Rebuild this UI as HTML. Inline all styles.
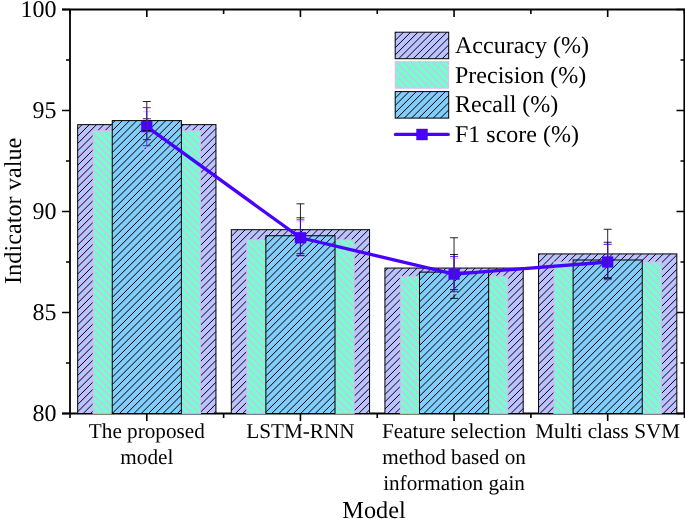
<!DOCTYPE html>
<html><head><meta charset="utf-8"><title>chart</title>
<style>
html,body{margin:0;padding:0;background:#fff;}
body{width:685px;height:519px;overflow:hidden;}
svg{display:block;will-change:transform;}
text{font-family:"Liberation Serif",serif;fill:#000;text-rendering:geometricPrecision;}
</style></head><body>
<svg width="685" height="519" viewBox="0 0 685 519">
<rect width="685" height="519" fill="#fff"/>
<path d="M62.0,9.5 L685,9.5 M70.0,8.5 L70.0,414.5 M62.0,413.5 L685,413.5 M684.3,9.5 L684.3,413.5" stroke="#000" stroke-width="1.8" fill="none"/>
<path d="M62.0,413.50 L70.0,413.50 M676.5,413.50 L684.5,413.50 M66.0,363.00 L70.0,363.00 M680.5,363.00 L684.5,363.00 M62.0,312.50 L70.0,312.50 M676.5,312.50 L684.5,312.50 M66.0,262.00 L70.0,262.00 M680.5,262.00 L684.5,262.00 M62.0,211.50 L70.0,211.50 M676.5,211.50 L684.5,211.50 M66.0,161.00 L70.0,161.00 M680.5,161.00 L684.5,161.00 M62.0,110.50 L70.0,110.50 M676.5,110.50 L684.5,110.50 M66.0,60.00 L70.0,60.00 M680.5,60.00 L684.5,60.00 M62.0,9.50 L70.0,9.50 M676.5,9.50 L684.5,9.50 M146.81,413.5 L146.81,421.0 M146.81,9.5 L146.81,17.0 M300.44,413.5 L300.44,421.0 M300.44,9.5 L300.44,17.0 M454.06,413.5 L454.06,421.0 M454.06,9.5 L454.06,17.0 M607.69,413.5 L607.69,421.0 M607.69,9.5 L607.69,17.0 M70.00,413.5 L70.00,418.0 M70.00,9.5 L70.00,14.0 M223.62,413.5 L223.62,418.0 M223.62,9.5 L223.62,14.0 M377.25,413.5 L377.25,418.0 M377.25,9.5 L377.25,14.0 M530.88,413.5 L530.88,418.0 M530.88,9.5 L530.88,14.0 M684.50,413.5 L684.50,418.0 M684.50,9.5 L684.50,14.0 " stroke="#000" stroke-width="1.6" fill="none"/>
<rect x="77.68" y="124.64" width="138.26" height="288.86" fill="#bcc2ff"/><path d="M77.68,129.02L82.06,124.64M77.68,136.27L89.31,124.64M77.68,143.52L96.56,124.64M77.68,150.77L103.81,124.64M77.68,158.02L111.06,124.64M77.68,165.27L118.31,124.64M77.68,172.52L125.56,124.64M77.68,179.77L132.81,124.64M77.68,187.02L140.06,124.64M77.68,194.27L147.31,124.64M77.68,201.52L154.56,124.64M77.68,208.77L161.81,124.64M77.68,216.02L169.06,124.64M77.68,223.27L176.31,124.64M77.68,230.52L183.56,124.64M77.68,237.77L190.81,124.64M77.68,245.02L198.06,124.64M77.68,252.27L205.31,124.64M77.68,259.52L212.56,124.64M77.68,266.77L215.94,128.51M77.68,274.02L215.94,135.76M77.68,281.27L215.94,143.01M77.68,288.52L215.94,150.26M77.68,295.77L215.94,157.51M77.68,303.02L215.94,164.76M77.68,310.27L215.94,172.01M77.68,317.52L215.94,179.26M77.68,324.77L215.94,186.51M77.68,332.02L215.94,193.76M77.68,339.27L215.94,201.01M77.68,346.52L215.94,208.26M77.68,353.77L215.94,215.51M77.68,361.02L215.94,222.76M77.68,368.27L215.94,230.01M77.68,375.52L215.94,237.26M77.68,382.77L215.94,244.51M77.68,390.02L215.94,251.76M77.68,397.27L215.94,259.01M77.68,404.52L215.94,266.26M77.68,411.77L215.94,273.51M83.20,413.50L215.94,280.76M90.45,413.50L215.94,288.01M97.70,413.50L215.94,295.26M104.95,413.50L215.94,302.51M112.20,413.50L215.94,309.76M119.45,413.50L215.94,317.01M126.70,413.50L215.94,324.26M133.95,413.50L215.94,331.51M141.20,413.50L215.94,338.76M148.45,413.50L215.94,346.01M155.70,413.50L215.94,353.26M162.95,413.50L215.94,360.51M170.20,413.50L215.94,367.76M177.45,413.50L215.94,375.01M184.70,413.50L215.94,382.26M191.95,413.50L215.94,389.51M199.20,413.50L215.94,396.76M206.45,413.50L215.94,404.01M213.70,413.50L215.94,411.26" stroke="#000" stroke-width="1.0" fill="none"/><rect x="77.68" y="124.64" width="138.26" height="288.86" fill="none" stroke="#000" stroke-width="1"/>
<rect x="231.31" y="229.68" width="138.26" height="183.82" fill="#bcc2ff"/><path d="M231.31,236.39L238.02,229.68M231.31,243.64L245.27,229.68M231.31,250.89L252.52,229.68M231.31,258.14L259.77,229.68M231.31,265.39L267.02,229.68M231.31,272.64L274.27,229.68M231.31,279.89L281.52,229.68M231.31,287.14L288.77,229.68M231.31,294.39L296.02,229.68M231.31,301.64L303.27,229.68M231.31,308.89L310.52,229.68M231.31,316.14L317.77,229.68M231.31,323.39L325.02,229.68M231.31,330.64L332.27,229.68M231.31,337.89L339.52,229.68M231.31,345.14L346.77,229.68M231.31,352.39L354.02,229.68M231.31,359.64L361.27,229.68M231.31,366.89L368.52,229.68M231.31,374.14L369.57,235.88M231.31,381.39L369.57,243.13M231.31,388.64L369.57,250.38M231.31,395.89L369.57,257.63M231.31,403.14L369.57,264.88M231.31,410.39L369.57,272.13M235.45,413.50L369.57,279.38M242.70,413.50L369.57,286.63M249.95,413.50L369.57,293.88M257.20,413.50L369.57,301.13M264.45,413.50L369.57,308.38M271.70,413.50L369.57,315.63M278.95,413.50L369.57,322.88M286.20,413.50L369.57,330.13M293.45,413.50L369.57,337.38M300.70,413.50L369.57,344.63M307.95,413.50L369.57,351.88M315.20,413.50L369.57,359.13M322.45,413.50L369.57,366.38M329.70,413.50L369.57,373.63M336.95,413.50L369.57,380.88M344.20,413.50L369.57,388.13M351.45,413.50L369.57,395.38M358.70,413.50L369.57,402.63M365.95,413.50L369.57,409.88" stroke="#000" stroke-width="1.0" fill="none"/><rect x="231.31" y="229.68" width="138.26" height="183.82" fill="none" stroke="#000" stroke-width="1"/>
<rect x="384.93" y="268.06" width="138.26" height="145.44" fill="#bcc2ff"/><path d="M384.93,271.27L388.14,268.06M384.93,278.52L395.39,268.06M384.93,285.77L402.64,268.06M384.93,293.02L409.89,268.06M384.93,300.27L417.14,268.06M384.93,307.52L424.39,268.06M384.93,314.77L431.64,268.06M384.93,322.02L438.89,268.06M384.93,329.27L446.14,268.06M384.93,336.52L453.39,268.06M384.93,343.77L460.64,268.06M384.93,351.02L467.89,268.06M384.93,358.27L475.14,268.06M384.93,365.52L482.39,268.06M384.93,372.77L489.64,268.06M384.93,380.02L496.89,268.06M384.93,387.27L504.14,268.06M384.93,394.52L511.39,268.06M384.93,401.77L518.64,268.06M384.93,409.02L523.19,270.76M387.70,413.50L523.19,278.01M394.95,413.50L523.19,285.26M402.20,413.50L523.19,292.51M409.45,413.50L523.19,299.76M416.70,413.50L523.19,307.01M423.95,413.50L523.19,314.26M431.20,413.50L523.19,321.51M438.45,413.50L523.19,328.76M445.70,413.50L523.19,336.01M452.95,413.50L523.19,343.26M460.20,413.50L523.19,350.51M467.45,413.50L523.19,357.76M474.70,413.50L523.19,365.01M481.95,413.50L523.19,372.26M489.20,413.50L523.19,379.51M496.45,413.50L523.19,386.76M503.70,413.50L523.19,394.01M510.95,413.50L523.19,401.26M518.20,413.50L523.19,408.51" stroke="#000" stroke-width="1.0" fill="none"/><rect x="384.93" y="268.06" width="138.26" height="145.44" fill="none" stroke="#000" stroke-width="1"/>
<rect x="538.56" y="253.92" width="138.26" height="159.58" fill="#bcc2ff"/><path d="M538.56,255.39L540.03,253.92M538.56,262.64L547.28,253.92M538.56,269.89L554.53,253.92M538.56,277.14L561.78,253.92M538.56,284.39L569.03,253.92M538.56,291.64L576.28,253.92M538.56,298.89L583.53,253.92M538.56,306.14L590.78,253.92M538.56,313.39L598.03,253.92M538.56,320.64L605.28,253.92M538.56,327.89L612.53,253.92M538.56,335.14L619.78,253.92M538.56,342.39L627.03,253.92M538.56,349.64L634.28,253.92M538.56,356.89L641.53,253.92M538.56,364.14L648.78,253.92M538.56,371.39L656.03,253.92M538.56,378.64L663.28,253.92M538.56,385.89L670.53,253.92M538.56,393.14L676.82,254.88M538.56,400.39L676.82,262.13M538.56,407.64L676.82,269.38M539.95,413.50L676.82,276.63M547.20,413.50L676.82,283.88M554.45,413.50L676.82,291.13M561.70,413.50L676.82,298.38M568.95,413.50L676.82,305.63M576.20,413.50L676.82,312.88M583.45,413.50L676.82,320.13M590.70,413.50L676.82,327.38M597.95,413.50L676.82,334.63M605.20,413.50L676.82,341.88M612.45,413.50L676.82,349.13M619.70,413.50L676.82,356.38M626.95,413.50L676.82,363.63M634.20,413.50L676.82,370.88M641.45,413.50L676.82,378.13M648.70,413.50L676.82,385.38M655.95,413.50L676.82,392.63M663.20,413.50L676.82,399.88M670.45,413.50L676.82,407.13" stroke="#000" stroke-width="1.0" fill="none"/><rect x="538.56" y="253.92" width="138.26" height="159.58" fill="none" stroke="#000" stroke-width="1"/>
<rect x="93.04" y="130.70" width="107.54" height="282.80" fill="#74ffce"/><path d="M93.04,408.74L97.80,413.50M93.04,401.49L105.05,413.50M93.04,394.24L112.30,413.50M93.04,386.99L119.55,413.50M93.04,379.74L126.80,413.50M93.04,372.49L134.05,413.50M93.04,365.24L141.30,413.50M93.04,357.99L148.55,413.50M93.04,350.74L155.80,413.50M93.04,343.49L163.05,413.50M93.04,336.24L170.30,413.50M93.04,328.99L177.55,413.50M93.04,321.74L184.80,413.50M93.04,314.49L192.05,413.50M93.04,307.24L199.30,413.50M93.04,299.99L200.58,407.53M93.04,292.74L200.58,400.28M93.04,285.49L200.58,393.03M93.04,278.24L200.58,385.78M93.04,270.99L200.58,378.53M93.04,263.74L200.58,371.28M93.04,256.49L200.58,364.03M93.04,249.24L200.58,356.78M93.04,241.99L200.58,349.53M93.04,234.74L200.58,342.28M93.04,227.49L200.58,335.03M93.04,220.24L200.58,327.78M93.04,212.99L200.58,320.53M93.04,205.74L200.58,313.28M93.04,198.49L200.58,306.03M93.04,191.24L200.58,298.78M93.04,183.99L200.58,291.53M93.04,176.74L200.58,284.28M93.04,169.49L200.58,277.03M93.04,162.24L200.58,269.78M93.04,154.99L200.58,262.53M93.04,147.74L200.58,255.28M93.04,140.49L200.58,248.03M93.04,133.24L200.58,240.78M97.75,130.70L200.58,233.53M105.00,130.70L200.58,226.28M112.25,130.70L200.58,219.03M119.50,130.70L200.58,211.78M126.75,130.70L200.58,204.53M134.00,130.70L200.58,197.28M141.25,130.70L200.58,190.03M148.50,130.70L200.58,182.78M155.75,130.70L200.58,175.53M163.00,130.70L200.58,168.28M170.25,130.70L200.58,161.03M177.50,130.70L200.58,153.78M184.75,130.70L200.58,146.53M192.00,130.70L200.58,139.28M199.25,130.70L200.58,132.03" stroke="#e2b2f5" stroke-width="1.1" fill="none"/><rect x="93.04" y="130.70" width="107.54" height="282.80" fill="none" stroke="#e2b2f5" stroke-width="0.9"/>
<rect x="246.67" y="239.78" width="107.54" height="173.72" fill="#74ffce"/><path d="M246.67,410.12L250.05,413.50M246.67,402.87L257.30,413.50M246.67,395.62L264.55,413.50M246.67,388.37L271.80,413.50M246.67,381.12L279.05,413.50M246.67,373.87L286.30,413.50M246.67,366.62L293.55,413.50M246.67,359.37L300.80,413.50M246.67,352.12L308.05,413.50M246.67,344.87L315.30,413.50M246.67,337.62L322.55,413.50M246.67,330.37L329.80,413.50M246.67,323.12L337.05,413.50M246.67,315.87L344.30,413.50M246.67,308.62L351.55,413.50M246.67,301.37L354.21,408.91M246.67,294.12L354.21,401.66M246.67,286.87L354.21,394.41M246.67,279.62L354.21,387.16M246.67,272.37L354.21,379.91M246.67,265.12L354.21,372.66M246.67,257.87L354.21,365.41M246.67,250.62L354.21,358.16M246.67,243.37L354.21,350.91M250.33,239.78L354.21,343.66M257.58,239.78L354.21,336.41M264.83,239.78L354.21,329.16M272.08,239.78L354.21,321.91M279.33,239.78L354.21,314.66M286.58,239.78L354.21,307.41M293.83,239.78L354.21,300.16M301.08,239.78L354.21,292.91M308.33,239.78L354.21,285.66M315.58,239.78L354.21,278.41M322.83,239.78L354.21,271.16M330.08,239.78L354.21,263.91M337.33,239.78L354.21,256.66M344.58,239.78L354.21,249.41M351.83,239.78L354.21,242.16" stroke="#e2b2f5" stroke-width="1.1" fill="none"/><rect x="246.67" y="239.78" width="107.54" height="173.72" fill="none" stroke="#e2b2f5" stroke-width="0.9"/>
<rect x="400.29" y="276.14" width="107.54" height="137.36" fill="#74ffce"/><path d="M400.29,411.49L402.30,413.50M400.29,404.24L409.55,413.50M400.29,396.99L416.80,413.50M400.29,389.74L424.05,413.50M400.29,382.49L431.30,413.50M400.29,375.24L438.55,413.50M400.29,367.99L445.80,413.50M400.29,360.74L453.05,413.50M400.29,353.49L460.30,413.50M400.29,346.24L467.55,413.50M400.29,338.99L474.80,413.50M400.29,331.74L482.05,413.50M400.29,324.49L489.30,413.50M400.29,317.24L496.55,413.50M400.29,309.99L503.80,413.50M400.29,302.74L507.83,410.28M400.29,295.49L507.83,403.03M400.29,288.24L507.83,395.78M400.29,280.99L507.83,388.53M402.69,276.14L507.83,381.28M409.94,276.14L507.83,374.03M417.19,276.14L507.83,366.78M424.44,276.14L507.83,359.53M431.69,276.14L507.83,352.28M438.94,276.14L507.83,345.03M446.19,276.14L507.83,337.78M453.44,276.14L507.83,330.53M460.69,276.14L507.83,323.28M467.94,276.14L507.83,316.03M475.19,276.14L507.83,308.78M482.44,276.14L507.83,301.53M489.69,276.14L507.83,294.28M496.94,276.14L507.83,287.03M504.19,276.14L507.83,279.78" stroke="#e2b2f5" stroke-width="1.1" fill="none"/><rect x="400.29" y="276.14" width="107.54" height="137.36" fill="none" stroke="#e2b2f5" stroke-width="0.9"/>
<rect x="553.92" y="262.00" width="107.54" height="151.50" fill="#74ffce"/><path d="M553.92,412.87L554.55,413.50M553.92,405.62L561.80,413.50M553.92,398.37L569.05,413.50M553.92,391.12L576.30,413.50M553.92,383.87L583.55,413.50M553.92,376.62L590.80,413.50M553.92,369.37L598.05,413.50M553.92,362.12L605.30,413.50M553.92,354.87L612.55,413.50M553.92,347.62L619.80,413.50M553.92,340.37L627.05,413.50M553.92,333.12L634.30,413.50M553.92,325.87L641.55,413.50M553.92,318.62L648.80,413.50M553.92,311.37L656.05,413.50M553.92,304.12L661.46,411.66M553.92,296.87L661.46,404.41M553.92,289.62L661.46,397.16M553.92,282.37L661.46,389.91M553.92,275.12L661.46,382.66M553.92,267.87L661.46,375.41M555.30,262.00L661.46,368.16M562.55,262.00L661.46,360.91M569.80,262.00L661.46,353.66M577.05,262.00L661.46,346.41M584.30,262.00L661.46,339.16M591.55,262.00L661.46,331.91M598.80,262.00L661.46,324.66M606.05,262.00L661.46,317.41M613.30,262.00L661.46,310.16M620.55,262.00L661.46,302.91M627.80,262.00L661.46,295.66M635.05,262.00L661.46,288.41M642.30,262.00L661.46,281.16M649.55,262.00L661.46,273.91M656.80,262.00L661.46,266.66" stroke="#e2b2f5" stroke-width="1.1" fill="none"/><rect x="553.92" y="262.00" width="107.54" height="151.50" fill="none" stroke="#e2b2f5" stroke-width="0.9"/>
<rect x="112.25" y="120.60" width="69.13" height="292.90" fill="#83cdfa"/><path d="M112.25,123.45L115.10,120.60M112.25,130.70L122.35,120.60M112.25,137.95L129.60,120.60M112.25,145.20L136.85,120.60M112.25,152.45L144.10,120.60M112.25,159.70L151.35,120.60M112.25,166.95L158.60,120.60M112.25,174.20L165.85,120.60M112.25,181.45L173.10,120.60M112.25,188.70L180.35,120.60M112.25,195.95L181.38,126.82M112.25,203.20L181.38,134.07M112.25,210.45L181.38,141.32M112.25,217.70L181.38,148.57M112.25,224.95L181.38,155.82M112.25,232.20L181.38,163.07M112.25,239.45L181.38,170.32M112.25,246.70L181.38,177.57M112.25,253.95L181.38,184.82M112.25,261.20L181.38,192.07M112.25,268.45L181.38,199.32M112.25,275.70L181.38,206.57M112.25,282.95L181.38,213.82M112.25,290.20L181.38,221.07M112.25,297.45L181.38,228.32M112.25,304.70L181.38,235.57M112.25,311.95L181.38,242.82M112.25,319.20L181.38,250.07M112.25,326.45L181.38,257.32M112.25,333.70L181.38,264.57M112.25,340.95L181.38,271.82M112.25,348.20L181.38,279.07M112.25,355.45L181.38,286.32M112.25,362.70L181.38,293.57M112.25,369.95L181.38,300.82M112.25,377.20L181.38,308.07M112.25,384.45L181.38,315.32M112.25,391.70L181.38,322.57M112.25,398.95L181.38,329.82M112.25,406.20L181.38,337.07M112.25,413.45L181.38,344.32M119.45,413.50L181.38,351.57M126.70,413.50L181.38,358.82M133.95,413.50L181.38,366.07M141.20,413.50L181.38,373.32M148.45,413.50L181.38,380.57M155.70,413.50L181.38,387.82M162.95,413.50L181.38,395.07M170.20,413.50L181.38,402.32M177.45,413.50L181.38,409.57" stroke="#000" stroke-width="1.0" fill="none"/><rect x="112.25" y="120.60" width="69.13" height="292.90" fill="none" stroke="#000" stroke-width="1"/>
<rect x="265.87" y="235.74" width="69.13" height="177.76" fill="#83cdfa"/><path d="M265.87,238.08L268.21,235.74M265.87,245.33L275.46,235.74M265.87,252.58L282.71,235.74M265.87,259.83L289.96,235.74M265.87,267.08L297.21,235.74M265.87,274.33L304.46,235.74M265.87,281.58L311.71,235.74M265.87,288.83L318.96,235.74M265.87,296.08L326.21,235.74M265.87,303.33L333.46,235.74M265.87,310.58L335.00,241.45M265.87,317.83L335.00,248.70M265.87,325.08L335.00,255.95M265.87,332.33L335.00,263.20M265.87,339.58L335.00,270.45M265.87,346.83L335.00,277.70M265.87,354.08L335.00,284.95M265.87,361.33L335.00,292.20M265.87,368.58L335.00,299.45M265.87,375.83L335.00,306.70M265.87,383.08L335.00,313.95M265.87,390.33L335.00,321.20M265.87,397.58L335.00,328.45M265.87,404.83L335.00,335.70M265.87,412.08L335.00,342.95M271.70,413.50L335.00,350.20M278.95,413.50L335.00,357.45M286.20,413.50L335.00,364.70M293.45,413.50L335.00,371.95M300.70,413.50L335.00,379.20M307.95,413.50L335.00,386.45M315.20,413.50L335.00,393.70M322.45,413.50L335.00,400.95M329.70,413.50L335.00,408.20" stroke="#000" stroke-width="1.0" fill="none"/><rect x="265.87" y="235.74" width="69.13" height="177.76" fill="none" stroke="#000" stroke-width="1"/>
<rect x="419.50" y="272.10" width="69.13" height="141.40" fill="#83cdfa"/><path d="M419.50,272.95L420.35,272.10M419.50,280.20L427.60,272.10M419.50,287.45L434.85,272.10M419.50,294.70L442.10,272.10M419.50,301.95L449.35,272.10M419.50,309.20L456.60,272.10M419.50,316.45L463.85,272.10M419.50,323.70L471.10,272.10M419.50,330.95L478.35,272.10M419.50,338.20L485.60,272.10M419.50,345.45L488.63,276.32M419.50,352.70L488.63,283.57M419.50,359.95L488.63,290.82M419.50,367.20L488.63,298.07M419.50,374.45L488.63,305.32M419.50,381.70L488.63,312.57M419.50,388.95L488.63,319.82M419.50,396.20L488.63,327.07M419.50,403.45L488.63,334.32M419.50,410.70L488.63,341.57M423.95,413.50L488.63,348.82M431.20,413.50L488.63,356.07M438.45,413.50L488.63,363.32M445.70,413.50L488.63,370.57M452.95,413.50L488.63,377.82M460.20,413.50L488.63,385.07M467.45,413.50L488.63,392.32M474.70,413.50L488.63,399.57M481.95,413.50L488.63,406.82" stroke="#000" stroke-width="1.0" fill="none"/><rect x="419.50" y="272.10" width="69.13" height="141.40" fill="none" stroke="#000" stroke-width="1"/>
<rect x="573.12" y="259.98" width="69.13" height="153.52" fill="#83cdfa"/><path d="M573.12,264.33L577.47,259.98M573.12,271.58L584.72,259.98M573.12,278.83L591.97,259.98M573.12,286.08L599.22,259.98M573.12,293.33L606.47,259.98M573.12,300.58L613.72,259.98M573.12,307.83L620.97,259.98M573.12,315.08L628.22,259.98M573.12,322.33L635.47,259.98M573.12,329.58L642.25,260.45M573.12,336.83L642.25,267.70M573.12,344.08L642.25,274.95M573.12,351.33L642.25,282.20M573.12,358.58L642.25,289.45M573.12,365.83L642.25,296.70M573.12,373.08L642.25,303.95M573.12,380.33L642.25,311.20M573.12,387.58L642.25,318.45M573.12,394.83L642.25,325.70M573.12,402.08L642.25,332.95M573.12,409.33L642.25,340.20M576.20,413.50L642.25,347.45M583.45,413.50L642.25,354.70M590.70,413.50L642.25,361.95M597.95,413.50L642.25,369.20M605.20,413.50L642.25,376.45M612.45,413.50L642.25,383.70M619.70,413.50L642.25,390.95M626.95,413.50L642.25,398.20M634.20,413.50L642.25,405.45M641.45,413.50L642.25,412.70" stroke="#000" stroke-width="1.0" fill="none"/><rect x="573.12" y="259.98" width="69.13" height="153.52" fill="none" stroke="#000" stroke-width="1"/>
<polyline points="146.81,126.66 300.44,237.76 454.06,274.12 607.69,262.00" fill="none" stroke="#4800ff" stroke-width="3.3" stroke-linejoin="round" stroke-linecap="round"/>
<rect x="141.21" y="121.06" width="11.2" height="11.2" fill="#4800ff"/>
<rect x="294.84" y="232.16" width="11.2" height="11.2" fill="#4800ff"/>
<rect x="448.46" y="268.52" width="11.2" height="11.2" fill="#4800ff"/>
<rect x="602.09" y="256.40" width="11.2" height="11.2" fill="#4800ff"/>
<path d="M146.81,118.78 L146.81,130.50 M142.81,118.78 L150.81,118.78 M142.81,130.50 L150.81,130.50" stroke="#000" stroke-width="0.85" fill="none"/>
<path d="M300.44,203.82 L300.44,255.54 M296.44,203.82 L304.44,203.82 M296.44,255.54 L304.44,255.54" stroke="#000" stroke-width="0.85" fill="none"/>
<path d="M454.06,237.76 L454.06,298.36 M450.06,237.76 L458.06,237.76 M450.06,298.36 L458.06,298.36" stroke="#000" stroke-width="0.85" fill="none"/>
<path d="M607.69,229.28 L607.69,278.56 M603.69,229.28 L611.69,229.28 M603.69,278.56 L611.69,278.56" stroke="#000" stroke-width="0.85" fill="none"/>
<path d="M146.81,111.71 L146.81,149.69 M142.81,111.71 L150.81,111.71 M142.81,149.69 L150.81,149.69" stroke="#e8b4f8" stroke-width="0.9" fill="none"/>
<path d="M300.44,221.88 L300.44,257.68 M296.44,221.88 L304.44,221.88 M296.44,257.68 L304.44,257.68" stroke="#e8b4f8" stroke-width="0.9" fill="none"/>
<path d="M454.06,258.61 L454.06,293.67 M450.06,258.61 L458.06,258.61 M450.06,293.67 L458.06,293.67" stroke="#e8b4f8" stroke-width="0.9" fill="none"/>
<path d="M607.69,244.33 L607.69,279.68 M603.69,244.33 L611.69,244.33 M603.69,279.68 L611.69,279.68" stroke="#e8b4f8" stroke-width="0.9" fill="none"/>
<path d="M146.81,101.51 L146.81,139.69 M142.81,101.51 L150.81,101.51 M142.81,139.69 L150.81,139.69" stroke="#000" stroke-width="0.85" fill="none"/>
<path d="M300.44,217.80 L300.44,253.68 M296.44,217.80 L304.44,217.80 M296.44,253.68 L304.44,253.68" stroke="#000" stroke-width="0.85" fill="none"/>
<path d="M454.06,254.53 L454.06,289.67 M450.06,254.53 L458.06,254.53 M450.06,289.67 L458.06,289.67" stroke="#000" stroke-width="0.85" fill="none"/>
<path d="M607.69,242.28 L607.69,277.68 M603.69,242.28 L611.69,242.28 M603.69,277.68 L611.69,277.68" stroke="#000" stroke-width="0.85" fill="none"/>
<path d="M146.81,107.63 L146.81,145.69 M142.81,107.63 L150.81,107.63 M142.81,145.69 L150.81,145.69" stroke="#4800ff" stroke-width="0.85" fill="none"/>
<path d="M300.44,219.84 L300.44,255.68 M296.44,219.84 L304.44,219.84 M296.44,255.68 L304.44,255.68" stroke="#4800ff" stroke-width="0.85" fill="none"/>
<path d="M454.06,256.57 L454.06,291.67 M450.06,256.57 L458.06,256.57 M450.06,291.67 L458.06,291.67" stroke="#4800ff" stroke-width="0.85" fill="none"/>
<path d="M607.69,244.33 L607.69,279.68 M603.69,244.33 L611.69,244.33 M603.69,279.68 L611.69,279.68" stroke="#4800ff" stroke-width="0.85" fill="none"/>
<text x="56.5" y="420.70" font-size="24" text-anchor="end">80</text>
<text x="56.5" y="319.70" font-size="24" text-anchor="end">85</text>
<text x="56.5" y="218.70" font-size="24" text-anchor="end">90</text>
<text x="56.5" y="117.70" font-size="24" text-anchor="end">95</text>
<text x="56.5" y="16.70" font-size="24" text-anchor="end">100</text>
<text transform="translate(20.6,210.8) rotate(-90)" font-size="24.3" text-anchor="middle">Indicator value</text>
<text x="146.81" y="437.60" font-size="21.2" text-anchor="middle">The proposed</text>
<text x="146.81" y="463.60" font-size="21.2" text-anchor="middle">model</text>
<text x="300.44" y="437.60" font-size="21.2" text-anchor="middle">LSTM-RNN</text>
<text x="454.06" y="437.60" font-size="21.2" text-anchor="middle">Feature selection</text>
<text x="454.06" y="463.60" font-size="21.2" text-anchor="middle">method based on</text>
<text x="454.06" y="489.60" font-size="21.2" text-anchor="middle">information gain</text>
<text x="607.69" y="437.60" font-size="21.2" text-anchor="middle">Multi class SVM</text>
<text x="374" y="517.7" font-size="24.3" text-anchor="middle">Model</text>
<rect x="395.20" y="32.20" width="53.50" height="26.50" fill="#bcc2ff"/><path d="M395.20,33.20L396.20,32.20M395.20,40.45L403.45,32.20M395.20,47.70L410.70,32.20M395.20,54.95L417.95,32.20M398.70,58.70L425.20,32.20M405.95,58.70L432.45,32.20M413.20,58.70L439.70,32.20M420.45,58.70L446.95,32.20M427.70,58.70L448.70,37.70M434.95,58.70L448.70,44.95M442.20,58.70L448.70,52.20" stroke="#000" stroke-width="1.0" fill="none"/><rect x="395.20" y="32.20" width="53.50" height="26.50" fill="none" stroke="#000" stroke-width="1"/>
<rect x="395.20" y="61.70" width="53.50" height="26.50" fill="#74ffce"/><path d="M395.20,82.65L400.75,88.20M395.20,75.40L408.00,88.20M395.20,68.15L415.25,88.20M396.00,61.70L422.50,88.20M403.25,61.70L429.75,88.20M410.50,61.70L437.00,88.20M417.75,61.70L444.25,88.20M425.00,61.70L448.70,85.40M432.25,61.70L448.70,78.15M439.50,61.70L448.70,70.90M446.75,61.70L448.70,63.65" stroke="#e2b2f5" stroke-width="1.1" fill="none"/><rect x="395.20" y="61.70" width="53.50" height="26.50" fill="none" stroke="#e2b2f5" stroke-width="0.9"/>
<rect x="395.20" y="91.60" width="53.50" height="26.50" fill="#83cdfa"/><path d="M395.20,98.20L401.80,91.60M395.20,105.45L409.05,91.60M395.20,112.70L416.30,91.60M397.05,118.10L423.55,91.60M404.30,118.10L430.80,91.60M411.55,118.10L438.05,91.60M418.80,118.10L445.30,91.60M426.05,118.10L448.70,95.45M433.30,118.10L448.70,102.70M440.55,118.10L448.70,109.95M447.80,118.10L448.70,117.20" stroke="#000" stroke-width="1.0" fill="none"/><rect x="395.20" y="91.60" width="53.50" height="26.50" fill="none" stroke="#000" stroke-width="1"/>
<path d="M395.5,134.4 L448.2,134.4" stroke="#4800ff" stroke-width="3.3" stroke-linecap="round"/><rect x="416.3" y="128.8" width="11.4" height="11.4" fill="#4800ff"/>
<text x="455" y="53.40" font-size="24">Accuracy (%)</text>
<text x="455" y="82.90" font-size="24">Precision (%)</text>
<text x="455" y="112.40" font-size="24">Recall (%)</text>
<text x="455" y="141.90" font-size="24">F1 score (%)</text>
</svg></body></html>
